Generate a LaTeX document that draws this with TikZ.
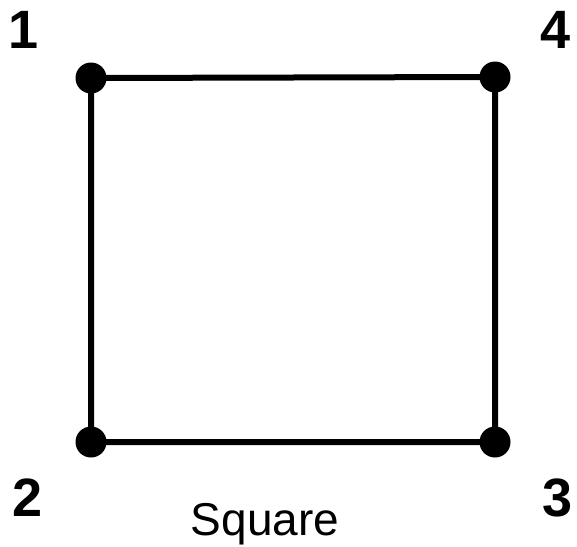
\documentclass[tikz,border=0pt]{standalone}
\usepackage{fontspec}
\setmainfont{Liberation Sans}
\begin{document}
\begin{tikzpicture}[x=1pt,y=-1pt,
  edge/.style={line width=6pt,line cap=round},
  vdot/.style={circle,fill=black,inner sep=0pt,minimum size=31pt},
  num/.style={font=\fontsize{54}{54}\selectfont\bfseries,inner sep=0pt,anchor=base}]
\useasboundingbox (0,0) rectangle (577,546);
\node[vdot] (v1) at (91,78) {};
\node[vdot] (v4) at (495,77) {};
\node[vdot] (v2) at (91,442) {};
\node[vdot] (v3) at (495,442) {};
\draw[edge] (v1.center) -- (v4.center) -- (v3.center) -- (v2.center) -- cycle;
\node[num] (l1) at (24,48) {1};
\node[num] (l4) at (556,48) {4};
\node[num] (l2) at (28,516) {2};
\node[num] (l3) at (558,516) {3};
\node[font=\fontsize{46}{46}\selectfont,inner sep=0pt,anchor=base] (lab) at (265,535) {Square};
\end{tikzpicture}
\end{document}
